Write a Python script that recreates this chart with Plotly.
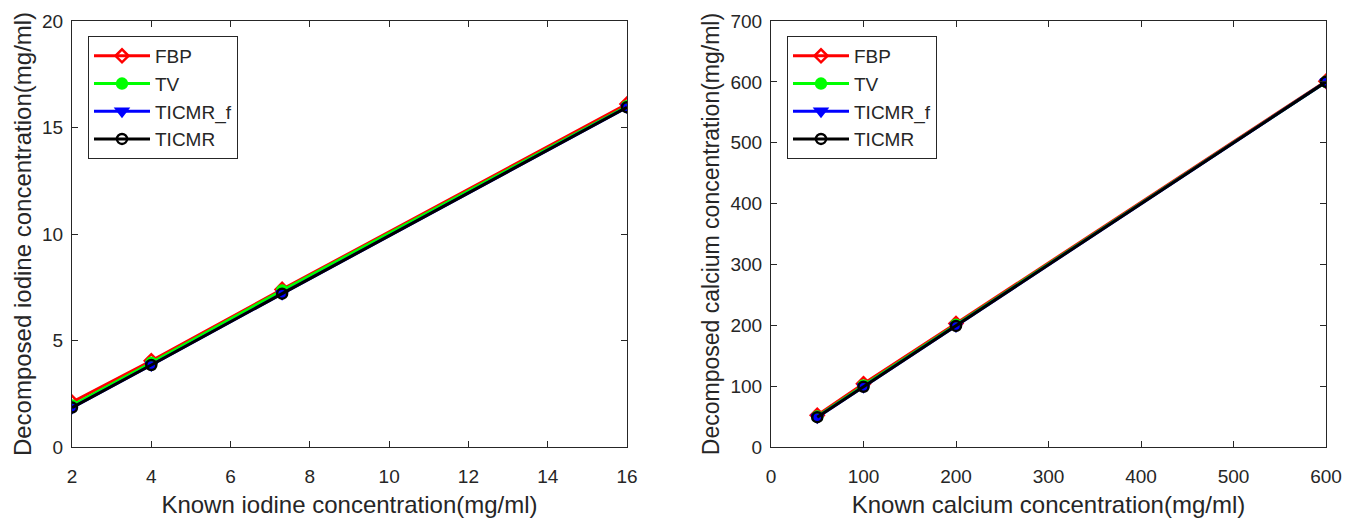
import plotly.graph_objects as go

# ---- data ----
iodine_known = [2, 4, 7.3, 16]
fbp_iodine = [2.1, 4.05, 7.4, 16.1]
tv_iodine = [1.95, 3.95, 7.35, 16.0]
ticmrf_iodine = [1.85, 3.85, 7.2, 15.95]
ticmr_iodine = [1.85, 3.85, 7.2, 15.95]

calcium_known = [50, 100, 200, 600]
fbp_calcium = [52, 104, 203, 601]
tv_calcium = [50, 101, 201, 600]
ticmrf_calcium = [49, 99, 199, 600]
ticmr_calcium = [49, 99, 199, 600]

series_names = ["FBP", "TV", "TICMR_f", "TICMR"]
series_colors = ["#ff0000", "#00ff00", "#0000ff", "#000000"]
series_symbols = ["diamond-open", "circle", "triangle-down", "circle-open"]

# page body has an 8px margin; size the figure so it ends at the window edge
OFF = 8
W, H = 1363 - OFF, 525 - OFF
FONT = "Liberation Sans, Arial, sans-serif"
TXT = "#262626"


def px_x(v):
    return (v - OFF) / W


def px_y(v):
    return 1 - (v - OFF) / H


fig = go.Figure()

iodine_sets = [fbp_iodine, tv_iodine, ticmrf_iodine, ticmr_iodine]
calcium_sets = [fbp_calcium, tv_calcium, ticmrf_calcium, ticmr_calcium]

for name, col, sym, ys in zip(series_names, series_colors, series_symbols, iodine_sets):
    fig.add_trace(go.Scatter(
        x=iodine_known, y=ys, name=name, mode="lines+markers",
        line=dict(color=col, width=3),
        marker=dict(symbol=sym, size=10, color=col, line=dict(color=col, width=2.5)),
        xaxis="x", yaxis="y", legend="legend"))

for name, col, sym, ys in zip(series_names, series_colors, series_symbols, calcium_sets):
    fig.add_trace(go.Scatter(
        x=calcium_known, y=ys, name=name, mode="lines+markers",
        line=dict(color=col, width=3),
        marker=dict(symbol=sym, size=10, color=col, line=dict(color=col, width=2.5)),
        xaxis="x2", yaxis="y2", legend="legend2"))

axis_common = dict(
    showline=True, linecolor="#262626", linewidth=1, mirror="ticks",
    ticks="inside", ticklen=6, tickcolor="#262626", showgrid=False, zeroline=False,
    tickfont=dict(family=FONT, size=19, color=TXT), automargin=False,
)
TITLE_FONT = dict(family=FONT, size=24, color=TXT)
TITLE_FONT_R = dict(family=FONT, size=23, color=TXT)

y0 = px_y(447)
y1 = px_y(21)

fig.update_layout(
    width=W, height=H,
    margin=dict(l=0, r=0, t=0, b=0, autoexpand=False),
    paper_bgcolor="white", plot_bgcolor="white",
    font=dict(family=FONT, color=TXT),
    xaxis=dict(domain=[px_x(72), px_x(627)], range=[2, 16], tickvals=[2, 4, 6, 8, 10, 12, 14, 16],
               title=dict(text="Known iodine concentration(mg/ml)", font=TITLE_FONT, standoff=10),
               ticklabelstandoff=12, anchor="y", **axis_common),
    yaxis=dict(domain=[y0, y1], range=[0, 20], tickvals=[0, 5, 10, 15, 20],
               title=dict(text="Decomposed iodine concentration(mg/ml)", font=TITLE_FONT, standoff=3),
               ticklabelstandoff=4, anchor="x", **axis_common),
    xaxis2=dict(domain=[px_x(771), px_x(1326)], range=[0, 600], tickvals=[0, 100, 200, 300, 400, 500, 600],
                title=dict(text="Known calcium concentration(mg/ml)", font=TITLE_FONT, standoff=10),
                ticklabelstandoff=12, anchor="y2", **axis_common),
    yaxis2=dict(domain=[y0, y1], range=[0, 700], tickvals=[0, 100, 200, 300, 400, 500, 600, 700],
                title=dict(text="Decomposed calcium concentration(mg/ml)", font=TITLE_FONT_R, standoff=4),
                ticklabelstandoff=4, anchor="x2", **axis_common),
    legend=dict(x=px_x(88), y=px_y(36), xanchor="left", yanchor="top",
                bordercolor="#262626", borderwidth=1, bgcolor="white",
                font=dict(family=FONT, size=19, color=TXT), itemwidth=56, tracegroupgap=0),
    legend2=dict(x=px_x(787), y=px_y(36), xanchor="left", yanchor="top",
                 bordercolor="#262626", borderwidth=1, bgcolor="white",
                 font=dict(family=FONT, size=19, color=TXT), itemwidth=56, tracegroupgap=0),
    showlegend=True,
)

fig.write_html("out.html")
